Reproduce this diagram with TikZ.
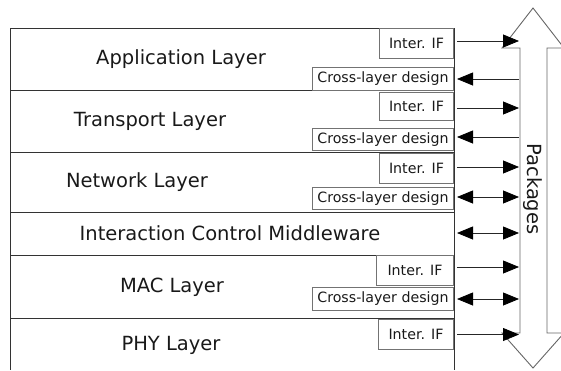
\documentclass[tikz,border=0pt]{standalone}
\usepackage{fontspec}
\setmainfont{DejaVu Sans}
\usetikzlibrary{arrows.meta}
\begin{document}
\begin{tikzpicture}[x=1pt,y=-1pt,
  layerline/.style={draw=black!80,line width=1pt},
  sideline/.style={draw=black!80,line width=1pt},
  big/.style={font=\fontsize{19.5}{23}\selectfont,inner sep=0pt,text=black!90},
  small/.style={font=\fontsize{14.2}{17}\selectfont,text=black!90},
  ifbox/.style={draw=black!55,line width=1pt,small,anchor=north east,minimum width=74pt,inner sep=0pt},
  clbox/.style={draw=black!55,line width=1pt,small,anchor=north east,minimum width=141pt,minimum height=23pt,inner sep=0pt},
  arr/.style={draw=black!85,line width=0.8pt,-{Triangle[length=16pt,width=13pt,color=black]}},
  darr/.style={draw=black!85,line width=0.8pt,{Triangle[length=16pt,width=13pt,color=black]}-{Triangle[length=16pt,width=13pt,color=black]}},
  larr/.style={draw=black!85,line width=0.8pt,{Triangle[length=16pt,width=13pt,color=black]}-},
]
\useasboundingbox (0,0) rectangle (561,370);
% layer lines
\foreach \yy in {28,90,152,212,255,318} \draw[layerline] (10,\yy) -- (454,\yy);
\draw[sideline] (10,28) -- (10,370);
% labels
\node[big] (app) at (181,59) {Application Layer};
\node[big] (trn) at (150,121) {Transport Layer};
\node[big] (net) at (137,182) {Network Layer};
\node[big] (icm) at (230,233) {Interaction Control Middleware};
\node[big] (mac) at (172,287) {MAC Layer};
\node[big] (phy) at (171,345) {PHY Layer};
% boxes
\node[ifbox,minimum height=30pt] (if1) at (454,28) {Inter. IF};
\node[clbox] (cl1) at (454,67) {Cross-layer design};
\node[ifbox,minimum height=28pt] (if2) at (454,92) {Inter. IF};
\node[clbox,minimum height=22pt] (cl2) at (454,128) {Cross-layer design};
\node[ifbox,minimum height=30pt] (if3) at (454,153) {Inter. IF};
\node[clbox,minimum height=22pt] (cl3) at (454,187) {Cross-layer design};
\node[ifbox,minimum height=30pt,minimum width=77pt] (if4) at (454,255) {Inter. IF};
\node[clbox] (cl4) at (454,287) {Cross-layer design};
\node[ifbox,minimum height=30pt,minimum width=75pt] (if5) at (454,319) {Inter. IF};
\coordinate (mid) at (454,233);
\draw[sideline] (454,28) -- (454,370);
% packages arrow
\draw[draw=black!60,line width=0.9pt,fill=white]
  (520,48) -- (502,48) -- (533,8) -- (564,48) -- (547,48) -- (547,333)
  -- (564,333) -- (533,368) -- (502,333) -- (520,333) -- cycle;
\node[big,rotate=-90] (pkg) at (533,189) {Packages};
\coordinate (shaft) at (519,0);
% connectors
\draw[arr] ([xshift=3pt]if1.east |- 0,41) -- (shaft |- 0,41);
\draw[larr] ([xshift=3pt]cl1.east) -- (cl1.east -| shaft);
\draw[arr] ([xshift=3pt]if2.east |- 0,108) -- (shaft |- 0,108);
\draw[larr] ([xshift=3pt]cl2.east |- 0,137) -- (shaft |- 0,137);
\draw[arr] ([xshift=3pt]if3.east |- 0,167) -- (shaft |- 0,167);
\draw[darr] ([xshift=3pt]cl3.east |- 0,197) -- (shaft |- 0,197);
\draw[darr] ([xshift=3pt]mid) -- (mid -| shaft);
\draw[arr] ([xshift=3pt]if4.east |- 0,267) -- (shaft |- 0,267);
\draw[darr] ([xshift=3pt]cl4.east) -- (cl4.east -| shaft);
\draw[arr] ([xshift=3pt]if5.east) -- (if5.east -| shaft);
\end{tikzpicture}
\end{document}
